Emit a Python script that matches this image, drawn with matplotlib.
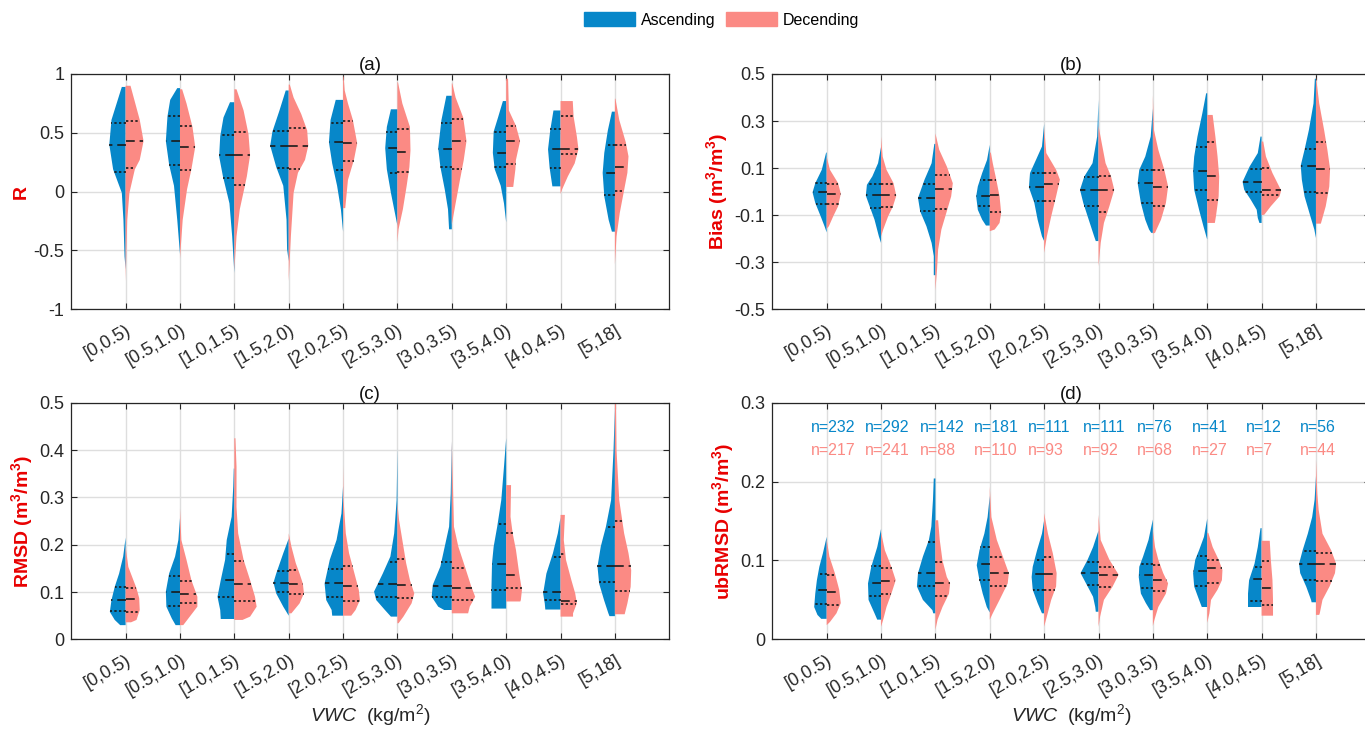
import numpy as np
import matplotlib.pyplot as plt
from matplotlib.patches import Patch

plt.rcParams['font.family'] = ['Liberation Sans', 'DejaVu Sans']
plt.rcParams['axes.unicode_minus'] = False
plt.rcParams['mathtext.fontset'] = 'custom'
plt.rcParams['mathtext.rm'] = 'Liberation Sans'
plt.rcParams['mathtext.it'] = 'Liberation Sans:italic'
plt.rcParams['mathtext.bf'] = 'Liberation Sans:bold'

bins = ['[0,0.5)', '[0.5,1.0)', '[1.0,1.5)', '[1.5,2.0)', '[2.0,2.5)',
        '[2.5,3.0)', '[3.0,3.5)', '[3.5,4.0)', '[4.0,4.5)', '[5,18]']
n_asc = [232, 292, 142, 181, 111, 111, 76, 41, 12, 56]
n_dsc = [217, 241, 88, 110, 93, 92, 68, 27, 7, 44]

# half violin outlines, (value, half width) from bottom to top
r_asc = [
    [(-0.66, 0), (-0.55, 0.02), (-0.24, 0.04), (-0.01, 0.07), (0.19, 0.23), (0.40, 0.30), (0.61, 0.26), (0.89, 0.07)],
    [(-0.53, 0), (-0.24, 0.05), (0.05, 0.11), (0.23, 0.20), (0.43, 0.26), (0.64, 0.23), (0.78, 0.18), (0.88, 0.05)],
    [(-0.69, 0), (-0.38, 0.04), (-0.10, 0.09), (0.13, 0.21), (0.30, 0.28), (0.47, 0.26), (0.63, 0.20), (0.76, 0.08)],
    [(-0.59, 0), (-0.49, 0.03), (-0.24, 0.04), (0.05, 0.10), (0.21, 0.23), (0.39, 0.34), (0.51, 0.30), (0.69, 0.17), (0.86, 0.055)],
    [(-0.34, 0), (-0.15, 0.04), (0.05, 0.11), (0.24, 0.20), (0.42, 0.26), (0.61, 0.23), (0.78, 0.135)],
    [(-0.29, 0), (-0.15, 0.06), (-0.01, 0.12), (0.19, 0.195), (0.37, 0.225), (0.55, 0.195), (0.70, 0.12)],
    [(-0.32, 0.05), (-0.15, 0.07), (0.02, 0.13), (0.21, 0.21), (0.37, 0.25), (0.61, 0.19), (0.815, 0.10)],
    [(-0.26, 0), (-0.10, 0.04), (0.05, 0.10), (0.19, 0.21), (0.33, 0.245), (0.51, 0.23), (0.63, 0.15), (0.77, 0.06)],
    [(0.045, 0.15), (0.20, 0.20), (0.36, 0.23), (0.52, 0.19), (0.69, 0.13)],
    [(-0.34, 0.055), (-0.24, 0.115), (-0.04, 0.195), (0.16, 0.225), (0.33, 0.195), (0.52, 0.13), (0.68, 0.055)],
]
r_dsc = [
    [(-0.76, 0), (-0.5, 0.015), (-0.24, 0.03), (-0.01, 0.07), (0.19, 0.17), (0.27, 0.26), (0.43, 0.33), (0.61, 0.26), (0.90, 0.09)],
    [(-0.57, 0), (-0.24, 0.05), (0.02, 0.13), (0.19, 0.21), (0.38, 0.28), (0.55, 0.23), (0.75, 0.12), (0.87, 0.04)],
    [(-0.67, 0), (-0.38, 0.04), (-0.15, 0.10), (0.02, 0.18), (0.13, 0.23), (0.31, 0.29), (0.49, 0.26), (0.69, 0.17), (0.87, 0.04)],
    [(-0.76, 0), (-0.38, 0.04), (-0.01, 0.09), (0.16, 0.17), (0.27, 0.30), (0.39, 0.36), (0.52, 0.34), (0.66, 0.23), (0.80, 0.09), (0.91, 0.02)],
    [(-0.14, 0.04), (0.10, 0.09), (0.27, 0.20), (0.41, 0.26), (0.61, 0.18), (0.75, 0.09), (0.86, 0.03), (0.98, 0.01)],
    [(-0.43, 0), (-0.32, 0.02), (-0.15, 0.10), (0.05, 0.17), (0.21, 0.22), (0.35, 0.24), (0.55, 0.23), (0.75, 0.09), (0.93, 0.01)],
    [(-0.28, 0), (-0.10, 0.07), (0.10, 0.15), (0.27, 0.22), (0.43, 0.27), (0.63, 0.21), (0.80, 0.07), (0.92, 0.01)],
    [(0.04, 0.13), (0.19, 0.17), (0.27, 0.18), (0.43, 0.256), (0.56, 0.18), (0.69, 0.05), (0.96, 0.035)],
    [(-0.02, 0), (0.02, 0.03), (0.13, 0.135), (0.24, 0.26), (0.36, 0.33), (0.47, 0.30), (0.64, 0.24), (0.77, 0.225)],
    [(-0.62, 0), (-0.38, 0.03), (-0.18, 0.09), (-0.01, 0.16), (0.16, 0.23), (0.30, 0.25), (0.42, 0.20), (0.61, 0.08), (0.79, 0.01)],
]
# q1, median, q3
r_asc_q = [(0.163, 0.40, 0.584), (0.23, 0.433, 0.64), (0.12, 0.312, 0.48), (0.202, 0.385, 0.514), (0.18, 0.42, 0.584),
           (0.155, 0.37, 0.508), (0.208, 0.365, 0.584), (0.21, 0.33, 0.505), (0.197, 0.36, 0.534), (-0.025, 0.157, 0.396)]
r_dsc_q = [(0.197, 0.427, 0.598), (0.185, 0.382, 0.556), (0.056, 0.312, 0.508), (0.19, 0.388, 0.545), (0.264, 0.41, 0.60),
           (0.163, 0.334, 0.534), (0.19, 0.433, 0.618), (0.233, 0.433, 0.556), (0.323, 0.36, 0.64), (0.006, 0.21, 0.396)]

bias_asc = [
    [(-0.173, 0), (-0.147, 0.04), (-0.105, 0.11), (-0.048, 0.21), (-0.003, 0.26), (0.036, 0.21), (0.093, 0.09), (0.166, 0.01)],
    [(-0.218, 0), (-0.19, 0.04), (-0.119, 0.12), (-0.062, 0.21), (-0.017, 0.28), (0.029, 0.26), (0.065, 0.16), (0.121, 0.055), (0.19, 0)],
    [(-0.355, 0.03), (-0.274, 0.03), (-0.218, 0.07), (-0.147, 0.165), (-0.084, 0.28), (-0.027, 0.32), (0.051, 0.20), (0.121, 0.07), (0.203, 0.02)],
    [(-0.144, 0.07), (-0.119, 0.14), (-0.077, 0.22), (-0.02, 0.25), (0.022, 0.22), (0.079, 0.14), (0.135, 0.05), (0.199, 0)],
    [(-0.21, 0), (-0.19, 0.04), (-0.119, 0.12), (-0.048, 0.18), (0.018, 0.28), (0.079, 0.26), (0.135, 0.15), (0.192, 0.04), (0.288, 0)],
    [(-0.21, 0.05), (-0.19, 0.08), (-0.119, 0.18), (-0.048, 0.28), (0.008, 0.34), (0.065, 0.26), (0.121, 0.11), (0.234, 0.025), (0.39, 0)],
    [(-0.175, 0.03), (-0.161, 0.07), (-0.119, 0.14), (-0.048, 0.22), (0.036, 0.28), (0.093, 0.25), (0.149, 0.14), (0.234, 0.04), (0.354, 0)],
    [(-0.204, 0), (-0.147, 0.07), (-0.077, 0.15), (0.008, 0.24), (0.086, 0.26), (0.149, 0.24), (0.234, 0.18), (0.333, 0.09), (0.418, 0.02)],
    [(-0.133, 0.04), (-0.112, 0.07), (-0.077, 0.09), (-0.034, 0.20), (0.008, 0.32), (0.042, 0.35), (0.107, 0.22), (0.164, 0.07), (0.234, 0.02)],
    [(-0.197, 0), (-0.161, 0.03), (-0.091, 0.12), (-0.02, 0.21), (0.051, 0.26), (0.111, 0.28), (0.178, 0.21), (0.262, 0.13), (0.375, 0.045), (0.48, 0.02)],
]
bias_dsc = [
    [(-0.158, 0), (-0.147, 0.04), (-0.105, 0.12), (-0.062, 0.21), (-0.009, 0.26), (0.036, 0.21), (0.093, 0.06), (0.149, 0)],
    [(-0.19, 0), (-0.161, 0.04), (-0.105, 0.13), (-0.062, 0.22), (-0.017, 0.28), (0.036, 0.23), (0.093, 0.10), (0.149, 0.03), (0.234, 0)],
    [(-0.42, 0), (-0.331, 0.03), (-0.246, 0.05), (-0.161, 0.11), (-0.091, 0.20), (-0.02, 0.29), (0.036, 0.32), (0.107, 0.21), (0.178, 0.07), (0.248, 0)],
    [(-0.168, 0), (-0.161, 0.09), (-0.133, 0.18), (-0.091, 0.21), (-0.02, 0.18), (0.051, 0.12), (0.121, 0.055), (0.166, 0.02)],
    [(-0.26, 0), (-0.19, 0.05), (-0.105, 0.13), (-0.02, 0.22), (0.051, 0.29), (0.093, 0.22), (0.164, 0.04), (0.274, 0)],
    [(-0.317, 0), (-0.218, 0.04), (-0.133, 0.10), (-0.062, 0.20), (0.008, 0.29), (0.065, 0.23), (0.121, 0.13), (0.206, 0.06), (0.28, 0)],
    [(-0.178, 0), (-0.175, 0.04), (-0.119, 0.15), (-0.048, 0.24), (0.022, 0.28), (0.093, 0.21), (0.178, 0.10), (0.262, 0.02), (0.41, 0)],
    [(-0.133, 0.14), (-0.105, 0.16), (-0.02, 0.21), (0.065, 0.22), (0.149, 0.19), (0.234, 0.15), (0.326, 0.10)],
    [(-0.10, 0), (-0.098, 0.05), (-0.062, 0.17), (-0.02, 0.33), (0.005, 0.36), (0.079, 0.20), (0.149, 0.08), (0.213, 0.03)],
    [(-0.136, 0.09), (-0.062, 0.18), (0.022, 0.245), (0.096, 0.26), (0.178, 0.21), (0.262, 0.15), (0.375, 0.06), (0.49, 0)],
]
bias_asc_q = [(-0.054, -0.003, 0.036), (-0.07, -0.016, 0.034), (-0.084, -0.027, 0.031), (-0.062, -0.02, 0.05), (-0.041, 0.018, 0.08),
              (-0.06, 0.008, 0.062), (-0.048, 0.036, 0.094), (0.005, 0.086, 0.188), (0.0, 0.042, 0.097), (-0.003, 0.111, 0.18)]
bias_dsc_q = [(-0.054, -0.01, 0.034), (-0.065, -0.016, 0.034), (-0.074, 0.011, 0.07), (-0.086, -0.016, 0.048), (-0.041, 0.032, 0.08),
              (-0.085, 0.008, 0.068), (-0.062, 0.021, 0.093), (-0.034, 0.068, 0.209), (-0.013, 0.005, 0.099), (-0.006, 0.096, 0.213)]

rmsd_asc = [
    [(0.03, 0.10), (0.041, 0.20), (0.058, 0.29), (0.083, 0.26), (0.111, 0.20), (0.139, 0.12), (0.175, 0.045), (0.215, 0)],
    [(0.03, 0.08), (0.044, 0.15), (0.069, 0.25), (0.101, 0.26), (0.139, 0.20), (0.175, 0.09), (0.21, 0.03), (0.256, 0)],
    [(0.043, 0.25), (0.062, 0.26), (0.09, 0.31), (0.125, 0.25), (0.168, 0.17), (0.21, 0.14), (0.259, 0.05), (0.323, 0.02), (0.361, 0.01)],
    [(0.05, 0), (0.069, 0.10), (0.097, 0.23), (0.12, 0.28), (0.139, 0.23), (0.182, 0.10), (0.213, 0)],
    [(0.05, 0.20), (0.062, 0.21), (0.083, 0.31), (0.118, 0.34), (0.168, 0.245), (0.21, 0.12), (0.266, 0.03), (0.324, 0)],
    [(0.048, 0.12), (0.062, 0.23), (0.083, 0.39), (0.101, 0.43), (0.139, 0.27), (0.175, 0.13), (0.224, 0.06), (0.294, 0.015), (0.404, 0)],
    [(0.062, 0.14), (0.069, 0.25), (0.09, 0.37), (0.115, 0.35), (0.154, 0.21), (0.196, 0.13), (0.238, 0.05), (0.308, 0.02), (0.418, 0)],
    [(0.065, 0.27), (0.083, 0.27), (0.111, 0.27), (0.161, 0.26), (0.196, 0.23), (0.238, 0.165), (0.294, 0.09), (0.365, 0.04), (0.425, 0)],
    [(0.063, 0.28), (0.076, 0.29), (0.097, 0.32), (0.139, 0.26), (0.182, 0.14), (0.224, 0.05), (0.258, 0)],
    [(0.049, 0.10), (0.055, 0.12), (0.083, 0.20), (0.118, 0.29), (0.154, 0.32), (0.196, 0.26), (0.238, 0.165), (0.294, 0.07), (0.40, 0.025), (0.49, 0)],
]
rmsd_dsc = [
    [(0.036, 0.10), (0.041, 0.20), (0.062, 0.26), (0.087, 0.25), (0.108, 0.20), (0.132, 0.12), (0.153, 0.05), (0.196, 0)],
    [(0.03, 0.06), (0.048, 0.18), (0.069, 0.32), (0.09, 0.32), (0.125, 0.21), (0.168, 0.12), (0.21, 0.025), (0.277, 0)],
    [(0.041, 0.15), (0.048, 0.29), (0.069, 0.41), (0.09, 0.38), (0.125, 0.29), (0.168, 0.17), (0.224, 0.07), (0.28, 0.04), (0.365, 0.04), (0.425, 0.02)],
    [(0.055, 0.05), (0.076, 0.20), (0.097, 0.28), (0.118, 0.26), (0.139, 0.20), (0.161, 0.13), (0.196, 0.05), (0.224, 0)],
    [(0.05, 0.15), (0.062, 0.23), (0.083, 0.31), (0.104, 0.29), (0.139, 0.21), (0.182, 0.11), (0.224, 0.05), (0.294, 0.01), (0.368, 0)],
    [(0.034, 0.02), (0.048, 0.11), (0.076, 0.26), (0.097, 0.31), (0.125, 0.23), (0.161, 0.16), (0.203, 0.10), (0.252, 0.03), (0.287, 0)],
    [(0.055, 0.30), (0.069, 0.33), (0.09, 0.43), (0.111, 0.36), (0.154, 0.24), (0.196, 0.12), (0.238, 0.04), (0.33, 0.02), (0.418, 0)],
    [(0.08, 0.26), (0.083, 0.27), (0.104, 0.29), (0.139, 0.24), (0.189, 0.18), (0.224, 0.12), (0.259, 0.08), (0.326, 0.09)],
    [(0.048, 0.23), (0.055, 0.23), (0.076, 0.30), (0.097, 0.27), (0.125, 0.20), (0.168, 0.10), (0.21, 0.06), (0.263, 0.08)],
    [(0.053, 0.18), (0.076, 0.23), (0.111, 0.29), (0.146, 0.30), (0.182, 0.25), (0.224, 0.17), (0.294, 0.08), (0.40, 0.03), (0.50, 0.02)],
]
rmsd_asc_q = [(0.06, 0.083, 0.11), (0.071, 0.1, 0.133), (0.089, 0.125, 0.181), (0.099, 0.12, 0.144), (0.089, 0.119, 0.149),
              (0.09, 0.117, 0.163), (0.09, 0.113, 0.163), (0.104, 0.16, 0.244), (0.083, 0.099, 0.175), (0.121, 0.154, 0.238)]
rmsd_dsc_q = [(0.058, 0.086, 0.108), (0.076, 0.096, 0.123), (0.08, 0.118, 0.165), (0.096, 0.118, 0.146), (0.082, 0.112, 0.154),
              (0.088, 0.114, 0.17), (0.083, 0.109, 0.151), (0.108, 0.137, 0.225), (0.074, 0.08, 0.18), (0.103, 0.155, 0.25)]

ub_asc = [
    [(0.026, 0.10), (0.031, 0.17), (0.041, 0.23), (0.058, 0.21), (0.075, 0.18), (0.092, 0.135), (0.109, 0.07), (0.13, 0)],
    [(0.025, 0.07), (0.033, 0.12), (0.05, 0.23), (0.071, 0.24), (0.092, 0.18), (0.117, 0.07), (0.14, 0)],
    [(0.033, 0.04), (0.037, 0.055), (0.05, 0.23), (0.067, 0.34), (0.084, 0.32), (0.105, 0.23), (0.126, 0.12), (0.143, 0.075), (0.177, 0.045), (0.204, 0.03)],
    [(0.034, 0), (0.041, 0.055), (0.058, 0.13), (0.075, 0.19), (0.094, 0.24), (0.113, 0.19), (0.134, 0.10), (0.155, 0.04), (0.182, 0)],
    [(0.033, 0.04), (0.046, 0.12), (0.063, 0.21), (0.079, 0.23), (0.092, 0.21), (0.113, 0.13), (0.134, 0.04), (0.151, 0)],
    [(0.035, 0.05), (0.041, 0.06), (0.054, 0.10), (0.071, 0.23), (0.084, 0.33), (0.101, 0.20), (0.117, 0.10), (0.138, 0)],
    [(0.037, 0.05), (0.046, 0.13), (0.058, 0.22), (0.079, 0.26), (0.092, 0.25), (0.105, 0.18), (0.126, 0.08), (0.152, 0)],
    [(0.041, 0.10), (0.05, 0.15), (0.067, 0.24), (0.084, 0.26), (0.101, 0.22), (0.113, 0.15), (0.13, 0.06), (0.153, 0)],
    [(0.041, 0.25), (0.058, 0.25), (0.075, 0.23), (0.096, 0.13), (0.117, 0.07), (0.141, 0.02)],
    [(0.047, 0.08), (0.05, 0.09), (0.067, 0.18), (0.084, 0.29), (0.096, 0.31), (0.113, 0.245), (0.134, 0.15), (0.155, 0.07), (0.177, 0.025), (0.207, 0)],
]
ub_dsc = [
    [(0.018, 0), (0.022, 0.06), (0.033, 0.18), (0.046, 0.26), (0.063, 0.23), (0.084, 0.15), (0.105, 0.05), (0.127, 0)],
    [(0.016, 0), (0.025, 0.04), (0.041, 0.10), (0.058, 0.19), (0.075, 0.27), (0.092, 0.19), (0.113, 0.07), (0.136, 0)],
    [(0.012, 0), (0.025, 0.04), (0.041, 0.13), (0.058, 0.25), (0.071, 0.27), (0.079, 0.21), (0.10, 0.13), (0.126, 0.08), (0.151, 0.05)],
    [(0.025, 0), (0.033, 0.055), (0.05, 0.18), (0.071, 0.33), (0.084, 0.35), (0.105, 0.24), (0.126, 0.13), (0.155, 0.03), (0.194, 0)],
    [(0.016, 0), (0.029, 0.05), (0.05, 0.13), (0.067, 0.22), (0.084, 0.23), (0.109, 0.16), (0.134, 0.07), (0.16, 0)],
    [(0.016, 0), (0.029, 0.03), (0.05, 0.10), (0.067, 0.26), (0.082, 0.37), (0.101, 0.20), (0.126, 0.04), (0.158, 0)],
    [(0.017, 0), (0.025, 0.03), (0.041, 0.10), (0.058, 0.24), (0.071, 0.28), (0.084, 0.19), (0.101, 0.10), (0.117, 0.04), (0.139, 0)],
    [(0.021, 0), (0.033, 0.04), (0.05, 0.07), (0.063, 0.19), (0.075, 0.27), (0.088, 0.28), (0.101, 0.21), (0.117, 0.10), (0.135, 0.02)],
    [(0.03, 0.21), (0.05, 0.21), (0.075, 0.20), (0.101, 0.17), (0.125, 0.15)],
    [(0.031, 0.06), (0.033, 0.07), (0.05, 0.12), (0.067, 0.25), (0.084, 0.35), (0.096, 0.37), (0.113, 0.28), (0.134, 0.12), (0.164, 0.05), (0.185, 0.025), (0.228, 0)],
]
ub_asc_q = [(0.045, 0.062, 0.083), (0.055, 0.072, 0.093), (0.068, 0.084, 0.123), (0.075, 0.095, 0.117), (0.063, 0.083, 0.101),
            (0.069, 0.084, 0.098), (0.065, 0.081, 0.096), (0.068, 0.087, 0.106), (0.049, 0.076, 0.092), (0.075, 0.095, 0.112)]
ub_dsc_q = [(0.044, 0.06, 0.081), (0.058, 0.074, 0.09), (0.055, 0.071, 0.098), (0.068, 0.084, 0.105), (0.062, 0.083, 0.105),
            (0.066, 0.081, 0.092), (0.061, 0.075, 0.094), (0.072, 0.09, 0.1), (0.043, 0.065, 0.099), (0.074, 0.095, 0.109)]

r_ticks = [-1, -0.5, 0, 0.5, 1]
r_ticklabels = ['-1', '-0.5', '0', '0.5', '1']
bias_ticks = [-0.5, -0.3, -0.1, 0.1, 0.3, 0.5]
bias_ticklabels = ['-0.5', '-0.3', '-0.1', '0.1', '0.3', '0.5']
rmsd_ticks = [0, 0.1, 0.2, 0.3, 0.4, 0.5]
rmsd_ticklabels = ['0', '0.1', '0.2', '0.3', '0.4', '0.5']
ub_ticks = [0, 0.1, 0.2, 0.3]
ub_ticklabels = ['0', '0.1', '0.2', '0.3']

BLUE = '#0787c9'
RED = '#fb8a84'
LAB_RED = '#e80000'
DARK = '#262626'


def half_violin(ax, x0, prof, q, side, color):
    ys = np.array([p[0] for p in prof])
    ws = np.array([p[1] for p in prof])
    xs = np.r_[x0, x0 + side * ws, x0]
    yy = np.r_[ys[0], ys, ys[-1]]
    ax.fill(xs, yy, color=color, lw=0, zorder=2)
    for k, v in enumerate(q):
        w = np.interp(v, ys, ws)
        ls = (0, (4.5, 2.5)) if k == 1 else (0, (1.2, 1.2))
        ax.plot([x0, x0 + side * w], [v, v], color='#1a1a1a', lw=1.4,
                ls=ls, alpha=0.85, zorder=3)


fig = plt.figure(figsize=(13.65, 7.29), dpi=100)

panels = [
    ([0.0522, 0.5757, 0.4381, 0.3228], r_asc, r_dsc, r_asc_q, r_dsc_q,
     (-1, 1), r_ticks, r_ticklabels, 'R', '(a)'),
    ([0.5658, 0.5757, 0.4381, 0.3228], bias_asc, bias_dsc, bias_asc_q, bias_dsc_q,
     (-0.5, 0.5), bias_ticks, bias_ticklabels, r'Bias (m$^{\mathbf{3}}$/m$^{\mathbf{3}}$)', '(b)'),
    ([0.0522, 0.1230, 0.4381, 0.3245], rmsd_asc, rmsd_dsc, rmsd_asc_q, rmsd_dsc_q,
     (0, 0.5), rmsd_ticks, rmsd_ticklabels, r'RMSD (m$^{\mathbf{3}}$/m$^{\mathbf{3}}$)', '(c)'),
    ([0.5658, 0.1230, 0.4381, 0.3245], ub_asc, ub_dsc, ub_asc_q, ub_dsc_q,
     (0, 0.3), ub_ticks, ub_ticklabels, r'ubRMSD (m$^{\mathbf{3}}$/m$^{\mathbf{3}}$)', '(d)'),
]

axes = []
for rect, asc, dsc, asc_q, dsc_q, ylim, ticks, tlabels, ylab, title in panels:
    ax = fig.add_axes(rect)
    axes.append(ax)
    for i in range(len(bins)):
        half_violin(ax, i + 1, asc[i], asc_q[i], -1, BLUE)
        half_violin(ax, i + 1, dsc[i], dsc_q[i], 1, RED)
    ax.set_xlim(0, 11)
    ax.set_ylim(*ylim)
    ax.set_yticks(ticks)
    ax.set_yticklabels(tlabels)
    ax.set_xticks(range(1, len(bins) + 1))
    ax.set_xticklabels(bins, rotation=30, ha='right', rotation_mode='anchor')
    ax.grid(True, color='#dedede', lw=1.0)
    ax.set_axisbelow(True)
    ax.tick_params(direction='in', length=4, top=True, right=True,
                   labelsize=13, colors=DARK)
    ax.tick_params(axis='x', pad=9)
    ax.tick_params(axis='y', pad=5)
    for sp in ax.spines.values():
        sp.set_color(DARK)
        sp.set_linewidth(0.9)
    ax.set_ylabel(ylab, color=LAB_RED, fontsize=14, fontweight='bold', labelpad=3)
    ax.set_title(title, fontsize=13.5, pad=3, color='#111111')

for ax in axes[2:]:
    ax.set_xlabel(r'$\mathit{VWC}$  (kg/m$^{2}$)', fontsize=14, color=DARK, labelpad=2)

ax_d = axes[3]
for i in range(len(bins)):
    ax_d.text(i + 1 - 0.29, 0.269, 'n=%d' % n_asc[i], color=BLUE, fontsize=11.5,
              ha='left', va='center')
    ax_d.text(i + 1 - 0.29, 0.239, 'n=%d' % n_dsc[i], color=RED, fontsize=11.5,
              ha='left', va='center')

handles = [Patch(color=BLUE, label='Ascending'), Patch(color=RED, label='Decending')]
fig.legend(handles=handles, loc='center', bbox_to_anchor=(0.5286, 0.9726), ncol=2,
           frameon=False, fontsize=11.5, handlelength=3.2, handleheight=0.95,
           handletextpad=0.35, columnspacing=0.65)

fig.savefig('out.png', dpi=100)
